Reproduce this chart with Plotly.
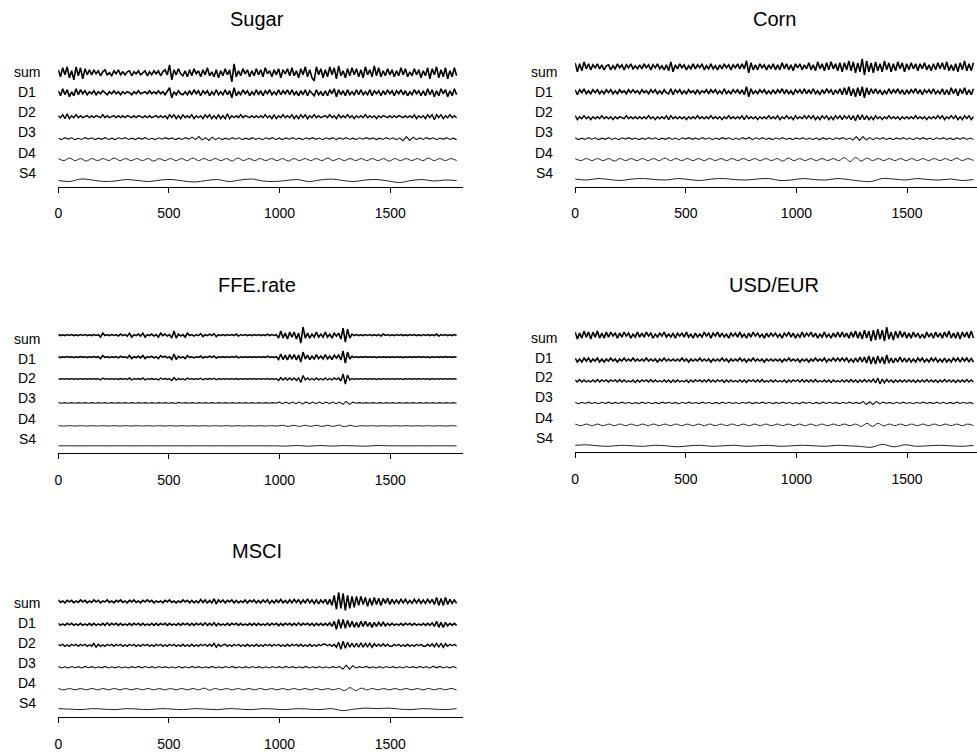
import numpy as np
import plotly.graph_objects as go

# ---------------------------------------------------------------------------
# Multiresolution decomposition (sum = D1 + D2 + D3 + D4 + S4) of five series.
# Each row list holds the successive local peaks/troughs of the component, in
# the same units for every row; samples are spread evenly over the 1800 days.
# ---------------------------------------------------------------------------
N_OBS = 1800
ROW_NAMES = ["sum", "D1", "D2", "D3", "D4", "S4"]
PANEL_TITLES = ["Sugar", "Corn", "FFE.rate", "USD/EUR", "MSCI"]
X_TICKS = [0, 500, 1000, 1500]

# ----------------------------- Sugar ---------------------------------------
SUGAR_SUM = [3,-4,5,-2,6,-5,2,-7,6,-3,5,-6,4,-2,3,
             -2,3,-1,2,-3,1,3,-2,0,-3,2,-1,3,-2,1,
             -2,1,2,-3,1,-1,2,-2,0,2,-3,1,-2,2,-1,
             2,-3,1,3,-2,8,-7,3,-2,4,-1,-3,2,-4,3,
             -3,4,-1,2,-4,3,-2,5,-3,1,-4,3,-5,2,-3,
             4,-2,3,-9,9,-4,2,-3,4,-1,3,-4,2,-3,4,
             -2,3,-4,5,-1,2,-4,3,-2,4,-5,3,-1,4,-3,
             5,-3,2,-5,4,-2,6,-4,3,-5,-8,6,-2,4,-5,
             3,-4,6,-2,5,-6,7,-3,2,-5,4,-3,5,-2,4,
             -4,3,-5,6,-2,3,-4,7,-3,5,-4,2,-3,4,-2,
             3,-4,2,-3,5,-2,4,-4,1,-3,4,-2,3,-5,2,
             -3,5,-6,4,-2,6,-5,3,-4,5,-6,2,-4,5,-3]
SUGAR_D1 = [2,-3,4,-2,3,-4,1,-3,4,-2,3,-1,2,-2,1,
            -1,2,-2,1,-1,2,0,-2,1,-1,2,-1,1,-2,1,
            -1,1,0,-2,1,-1,2,-1,0,1,-1,2,-1,1,-1,
            2,-1,1,-2,2,5,-5,1,-2,2,-1,-2,1,-2,2,
            -2,3,-1,2,-3,2,-1,2,-3,1,-2,3,-2,1,-2,
            3,-2,2,-5,5,-3,1,-2,3,-1,2,-3,1,-2,3,
            -2,2,-3,2,-1,3,-2,1,-2,3,-2,2,-1,3,-2,
            3,-2,1,-3,2,-2,3,-3,2,-1,-3,3,-2,1,-3,
            2,-3,3,-1,4,-4,3,-2,2,-3,3,-2,1,-2,3,
            -2,3,-2,1,-2,3,-3,2,-1,2,-3,2,-2,3,-1,
            2,-3,2,-1,3,-2,2,-3,1,-2,3,-1,2,-3,2,
            -3,4,-2,3,-4,2,-3,4,-1,3,-4,2,-3,4,-2]
SUGAR_D2 = [1,-1,2,-2,3,-2,1,-1,2,-1,1,-1,0,1,-1,
            1,-1,1,0,-1,2,-1,1,-1,0,1,-1,1,-1,1,
            -1,1,0,-1,1,-1,1,0,-1,1,-1,1,-1,0,1,
            -1,1,-1,1,-2,2,-1,2,-2,1,-2,2,-1,1,-1,
            2,-2,1,-1,1,-2,2,-1,2,-2,1,-2,2,-2,1,
            -2,3,-2,1,-1,1,-1,2,-1,1,0,-1,1,-1,1,
            -1,1,-1,2,-1,1,-2,2,-2,1,-1,2,-1,1,-1,
            2,-2,1,-2,2,-1,2,-2,1,-1,2,-1,1,-1,0,
            1,-1,2,-1,1,-2,2,-1,1,-1,2,-1,1,-2,1,
            -1,1,-1,2,-1,1,-1,1,-2,1,-1,1,0,-1,1,
            -1,1,-1,1,0,-1,1,-1,1,-1,2,-2,1,-1,1,
            -2,2,-1,2,-3,2,-1,2,-2,1,-1,2,-1,1,-1]
SUGAR_D3 = [0.5,-1,1,-0.5,0.8,-1,0.3,-0.8,1,-0.5,0.8,-1,0.5,-0.7,1,-0.8,0.5,-1,0.8,-0.3,
            1,-0.8,0.5,-1,0.7,-0.5,1,-0.8,0.3,-1,0.8,-0.6,1,-0.5,0.7,-1,0.5,-0.8,1,-0.5,
            1.5,-1,2,-1.5,1,-1.8,1.5,-1,0.8,-1,0.5,-0.8,1,-0.6,0.8,-1,0.5,-0.7,1,-0.8,
            0.6,-1,0.8,-0.5,1,-0.8,0.5,-1,0.7,-0.6,1,-0.8,0.5,-1,0.8,-0.5,1,-0.7,0.6,-1,
            0.8,-0.5,1,-1,0.7,-0.6,1,-0.8,0.5,-1,0.8,-0.6,1,-0.5,0.7,-1,0.5,-0.8,1,-0.6,
            0.8,-1,0.6,-2,2,-1.8,1.5,-1,0.7,-0.8,1,-0.5,0.8,-1,0.6,-0.7,1,-0.8,0.5,-1]
SUGAR_D4 = [1,-1,1.5,-1,1,-1.5,1,-1,1,-1,1.5,-1,1,-1,1,-1,1,-1.5,
            1,-1,1,-1,1,-1,1.5,-1,1,-1,1,-1,1,-1.5,1.5,-1,1,-1,
            1,-1,1,-1,1,-1.5,1,-1,1,-1,1,-1,1.5,-1,1,-1,1,-1,
            1,-1,1,-1,1,-1.5,1,-1,1,-1,1,-1,1.5,-1,1,-1,1,-1]
SUGAR_S4 = [0,-1,1.5,0.5,-1,-0.5,1,0,-1,0.5,1,-0.5,-1.5,0,1,-1,0.5,1.5,
            -0.5,-1,0,1,-1,0.5,1.5,0,-1,0.5,1,-0.5,-2,0,1,-0.5,0.5,0]

# ----------------------------- Corn ----------------------------------------
CORN_SUM = [4,-5,3,-4,5,-2,3,-3,2,-1,3,-2,2,-3,1,
            2,-3,1,-2,3,-1,2,-3,2,-1,3,-2,1,-2,2,
            -2,3,-1,2,-3,2,-1,3,-2,1,-3,2,-4,5,-5,
            2,-2,3,-1,2,-3,1,-2,3,-2,2,-1,3,-3,1,
            -2,3,-2,1,-3,2,-2,3,-1,2,-3,2,-1,3,-2,
            3,-2,6,-6,4,-3,2,-3,3,-1,2,-3,2,-2,3,
            -3,2,-3,4,-2,3,-3,2,-4,3,-1,3,-3,2,-2,
            4,-3,2,-4,5,-2,3,-4,4,-3,5,-2,3,-4,4,
            -5,4,-3,6,-4,5,-6,4,-5,8,-8,6,-5,4,-6,
            5,-4,3,-5,6,-3,4,-5,3,-4,5,-2,4,-5,3,
            -3,4,-2,3,-4,3,-2,4,-3,2,-4,3,-3,4,-2,
            4,-3,5,-4,2,-4,3,-5,4,-3,6,-4,3,-4,4]
CORN_D1 = [2,-3,2,-1,3,-2,1,-2,2,-1,2,-2,1,-2,2,
           -1,2,-2,1,-2,2,-1,1,-2,2,-1,2,-1,1,-2,
           2,-1,1,-2,2,-1,2,-2,1,-2,2,-1,-2,3,-3,
           2,-1,2,-2,1,-2,2,-1,1,-2,2,-2,1,-1,2,
           -2,2,-1,2,-2,1,-2,3,-2,1,-2,2,-1,2,-2,
           2,-3,5,-5,3,-2,1,-2,2,-1,2,-2,1,-2,2,
           -2,2,-1,3,-2,2,-2,1,-3,2,-1,2,-2,3,-2,
           2,-2,3,-2,1,-3,2,-2,3,-1,2,-3,2,-2,3,
           -3,4,-3,5,-4,3,-5,4,-4,5,-6,4,-3,3,-2,
           3,-2,2,-3,1,-2,3,-2,2,-1,3,-2,2,-3,2,
           -2,2,-1,3,-2,2,-3,2,-1,2,-2,3,-2,1,-2,
           3,-3,2,-3,4,-2,3,-4,3,-2,4,-3,2,-3,3]
CORN_D2 = [2,-2,1,-1,2,-1,1,-2,1,-1,1,-1,2,-1,1,
           -1,1,-2,1,-1,1,0,-1,2,-1,1,-1,1,-1,1,
           -1,1,-1,2,-1,1,-2,1,-1,1,-1,2,-2,2,-1,
           1,-1,1,-1,1,-2,1,-1,1,-1,2,-1,1,-1,1,
           -1,2,-1,1,-1,1,-2,1,-1,2,-1,1,-1,1,-1,
           2,-2,2,-1,1,-1,1,-2,1,-1,1,-1,2,-1,1,
           -1,2,-2,1,-1,2,-1,1,-2,2,-1,1,-1,2,-1,
           2,-1,2,-2,1,-2,2,-1,2,-2,1,-2,2,-1,2,
           -2,2,-1,2,-2,2,-3,3,-2,3,-2,2,-2,1,-2,
           2,-1,1,-2,1,-1,2,-1,1,-1,1,-2,1,-1,1,
           -1,1,-1,2,-1,1,-1,1,-2,1,-1,1,-1,2,-1,
           2,-2,1,-1,2,-1,2,-2,1,-2,2,-1,2,-2,1]
CORN_D3 = [0.8,-1,0.5,-0.8,1,-0.6,0.8,-1,0.5,-0.7,1,-0.8,0.6,-1,0.8,-0.5,1,-0.7,0.6,-1,
           0.5,-0.8,1,-0.6,0.8,-1,0.5,-0.7,1,-0.8,0.6,-1,0.8,-0.5,1,-0.7,0.5,-0.8,1,-0.6,
           0.8,-1,0.6,-0.7,1,-0.5,0.8,-1,0.6,-0.8,1,-0.5,1.2,-1,0.8,-0.6,1,-0.8,0.5,-1,
           0.8,-0.6,1,-0.8,0.5,-1,0.7,-0.6,1,-0.8,0.6,-1,0.8,-1.2,1,-0.7,0.6,-1,0.8,-0.5,
           1,-0.8,0.6,-1.5,2,-1.8,2,-1.5,1,-1,0.8,-0.6,1,-0.8,0.5,-1,0.7,-0.6,1,-0.8,
           0.6,-1,0.8,-0.5,1,-0.7,0.6,-1,0.8,-0.6,1,-0.8,0.5,-1,0.7,-0.6,1,-0.8,0.6,-1]
CORN_D4 = [1,-1,1,-1,1,-1,1,-1.5,1,-1,1,-1,1,-1,1,-1,1.5,-1,
           1,-1,1,-1,1,-1,1,-1,1,-1,1,-1,1,-1,1,-1,1,-1,
           1,-1.5,1.5,-1,1,-1,1,-1,1,-1,1,-1,2,-2,2,-1.5,1.5,-1,
           1,-1,1,-1,1,-1,1,-1,1,-1,1,-1,1,-1,1.5,-1,1,-1]
CORN_S4 = [0.5,-0.5,1,0,-1,0.5,1,0,-0.5,1,0,-1,0.5,1,0,-0.5,0.5,1,
           -1,-0.5,1,0,-0.5,1,0,-1.5,-2,1,0.5,-0.5,1,0,-0.5,0.5,-1,0]

# ----------------------------- FFE.rate ------------------------------------
FFE_SUM = [0.5,-0.5,0.3,-0.5,0.5,-0.3,0.5,-0.5,0.3,-0.5,0.5,-0.3,0.5,-0.5,0.3,
           -0.5,0.5,-0.3,0.5,-2,2,-0.5,0.3,-0.5,0.5,-0.3,0.5,-1,1,-0.5,
           0.5,-1,2,-2,0.5,-0.5,1,-1,2,-2,0.5,-0.5,1,-1,0.5,
           -2,2,-0.5,1,-1,0.5,-3,4,-3,1,-1,0.5,-2,2,-0.5,
           0.5,-1,0.5,-0.5,1.5,-1.5,0.5,-0.5,1,-0.5,1.5,-1.5,0.5,-0.5,0.5,
           -0.5,0.5,-0.3,0.5,-0.5,1,-1,0.5,-0.3,0.5,-0.5,0.3,-0.5,0.5,-0.3,
           0.5,-0.5,0.3,-0.5,1,-0.5,0.5,-0.3,0.5,-3,4,-3,2,-4,3,
           -2,3,-4,2,-8,8,-3,2,-3,1,-2,3,-2,1,-2,
           3,-2,1,-3,2,-1,2,-4,7,-7,6,-3,1,-0.5,0.5,
           -0.5,0.3,-0.5,0.5,-0.3,0.5,-0.5,0.3,-0.5,0.5,-1,1,-0.3,0.5,-0.5,
           0.3,-0.5,0.5,-0.3,0.5,-0.5,0.3,-0.5,0.5,-0.3,0.5,-0.5,0.3,-0.5,0.5,
           -0.3,0.5,-0.5,0.3,-0.5,1,-1,0.5,-0.3,0.5,-0.5,0.3,-0.5,0.5,-0.3]
FFE_D1 = [0.3,-0.5,0.3,-0.3,0.5,-0.3,0.3,-0.5,0.3,-0.3,0.5,-0.3,0.3,-0.5,0.3,
          -0.3,0.5,-0.3,0.3,-1.5,1.5,-0.3,0.3,-0.5,0.3,-0.3,0.5,-0.8,0.8,-0.3,
          0.3,-0.8,1.5,-1.5,0.3,-0.5,0.8,-0.8,1.5,-1.5,0.3,-0.3,0.8,-0.8,0.3,
          -1.5,1.5,-0.3,0.8,-0.8,0.3,-2.5,3,-2.5,0.8,-0.8,0.3,-1.5,1.5,-0.3,
          0.3,-0.8,0.3,-0.3,1,-1,0.3,-0.3,0.8,-0.3,1,-1,0.3,-0.3,0.3,
          -0.3,0.3,-0.3,0.5,-0.3,0.8,-0.8,0.3,-0.3,0.3,-0.3,0.3,-0.3,0.3,-0.3,
          0.3,-0.3,0.3,-0.3,0.8,-0.3,0.3,-0.3,0.3,-2.5,3,-2.5,2,-3,2.5,
          -2,2.5,-3,2,-5,5,-2,2,-2.5,1,-2,2.5,-1.5,1,-2,
          2.5,-2,1,-2.5,2,-1,2,-3,6,-6,5,-2,0.8,-0.3,0.3,
          -0.3,0.3,-0.3,0.5,-0.3,0.3,-0.3,0.3,-0.5,0.3,-0.3,0.3,-0.3,0.3,-0.3,
          0.3,-0.3,0.3,-0.3,0.3,-0.5,0.3,-0.3,0.3,-0.3,0.3,-0.3,0.5,-0.3,0.3,
          -0.3,0.3,-0.5,0.3,-0.3,0.3,-0.3,0.3,-0.3,0.5,-0.3,0.3,-0.3,0.3,-0.3]
FFE_D2 = [0.3,-0.3,0.3,-0.3,0.3,-0.3,0.3,-0.3,0.3,-0.3,0.3,-0.3,0.3,-0.3,0.3,
          -0.3,0.3,-0.3,0.3,-1,1,-0.3,0.3,-0.3,0.3,-0.3,0.3,-0.5,0.5,-0.3,
          0.3,-0.5,1,-1,0.3,-0.3,0.5,-0.5,1,-1,0.3,-0.3,0.5,-0.5,0.3,
          -1,1,-0.3,0.5,-0.5,0.3,-1.5,1.5,-1,0.5,-0.5,0.3,-1,1,-0.3,
          0.3,-0.5,0.3,-0.3,0.8,-0.8,0.3,-0.3,0.5,-0.3,0.8,-0.8,0.3,-0.3,0.3,
          -0.3,0.3,-0.3,0.3,-0.3,0.5,-0.5,0.3,-0.3,0.3,-0.3,0.3,-0.3,0.3,-0.3,
          0.3,-0.3,0.3,-0.3,0.5,-0.3,0.3,-0.3,0.3,-1.5,1.5,-1,1,-1,1,
          -1,1,-1.5,1,-3.5,3.5,-1,1,-1,0.5,-1,1,-0.8,0.5,-1,
          1,-1,0.5,-1,1,-0.5,1,-2,5,-5,4,-1,0.5,-0.3,0.3,
          -0.3,0.3,-0.3,0.5,-0.3,0.3,-0.3,0.3,-0.5,0.3,-0.3,0.3,-0.3,0.3,-0.3,
          0.3,-0.3,0.3,-0.3,0.3,-0.5,0.3,-0.3,0.3,-0.3,0.3,-0.3,0.5,-0.3,0.3,
          -0.3,0.3,-0.5,0.3,-0.3,0.3,-0.3,0.3,-0.3,0.5,-0.3,0.3,-0.3,0.3,-0.3]
FFE_D3 = [0.3,-0.3,0.3,-0.3,0.3,-0.3,0.3,-0.3,0.3,-0.3,
          0.3,-0.3,0.3,-0.3,0.3,-0.3,0.3,-0.3,0.3,-0.3,
          0.3,-0.3,0.3,-0.3,0.3,-0.3,0.3,-0.3,0.3,-0.3,
          0.3,-0.3,0.3,-0.3,0.3,-0.5,0.5,-0.3,0.3,-0.3,
          0.3,-0.3,0.3,-0.3,0.3,-0.3,0.3,-0.3,0.3,-0.3,
          0.3,-0.3,0.3,-0.3,0.3,-0.3,0.3,-0.3,0.3,-0.3,
          0.3,-0.3,0.3,-0.3,0.3,-0.3,0.8,-0.8,0.8,-0.8,
          0.8,-0.8,0.8,-1,1,-0.8,0.8,-0.8,0.8,-0.8,
          0.8,-0.8,0.8,-0.8,0.8,-1.5,1.5,-1.5,0.8,-0.3,
          0.3,-0.3,0.3,-0.3,0.3,-0.3,0.3,-0.3,0.3,-0.3,
          0.3,-0.3,0.3,-0.3,0.3,-0.3,0.3,-0.3,0.3,-0.3,
          0.3,-0.3,0.3,-0.3,0.3,-0.3,0.3,-0.3,0.3,-0.3]
FFE_D4 = [0.2,-0.2,0.2,-0.2,0.2,-0.2,0.2,-0.2,0.2,-0.2,0.2,-0.2,
          0.2,-0.2,0.2,-0.2,0.2,-0.2,0.2,-0.2,0.2,-0.2,0.2,-0.2,
          0.2,-0.2,0.2,-0.2,0.2,-0.2,0.2,-0.2,0.2,-0.2,0.2,-0.2,
          0.2,-0.2,0.2,-0.2,0.6,-0.6,0.6,-0.6,0.6,-0.6,0.6,-0.6,
          0.6,-0.6,0.8,-0.8,0.6,-0.6,0.2,-0.2,0.2,-0.2,0.2,-0.2,
          0.2,-0.2,0.2,-0.2,0.2,-0.2,0.2,-0.2,0.2,-0.2,0.2,-0.2]
FFE_S4 = [0,0,0,0,0,0,0,0,0,0,0,0,0,0,0,0,0,0,
          0,0,-0.3,0.3,-0.4,0.3,-0.3,0.2,0,-0.4,0.3,0,0,0,0,0,0,0]

# ----------------------------- USD/EUR -------------------------------------
USD_SUM = [3,-4,2,-3,4,-2,3,-4,3,-2,4,-3,2,-3,3,
           -2,3,-1,2,-3,2,-2,3,-1,2,-3,1,-2,3,-2,
           2,-2,3,-1,2,-3,1,-2,2,-1,3,-2,1,-2,2,
           -3,2,-1,2,-2,3,-2,1,-3,2,-2,1,-2,3,-1,
           2,-3,2,-1,3,-2,2,-2,1,-3,2,-1,2,-2,3,
           -2,1,-3,2,-2,3,-1,2,-2,1,-3,2,-2,2,-1,
           2,-2,1,-3,2,-1,3,-2,2,-3,1,-2,3,-2,2,
           -1,3,-2,2,-3,1,-2,3,-2,1,-3,2,-2,3,-2,
           3,-2,2,-3,3,-2,4,-3,3,-4,5,-3,4,-6,5,
           -5,6,-4,5,-6,8,-4,3,-5,4,-3,4,-2,3,-3,
           2,-3,3,-2,2,-3,1,-3,3,-2,2,-3,3,-2,2,
           -3,3,-2,4,-3,2,-3,3,-4,3,-2,3,-3,4,-3]
USD_D1 = [2,-2,1,-2,2,-1,2,-2,1,-1,2,-2,1,-2,1,
          -1,2,-1,1,-2,1,-1,2,-1,1,-1,2,-1,1,-1,
          1,-1,2,-1,1,-1,1,-2,1,-1,2,-1,1,-1,1,
          -1,1,-1,2,-1,1,-2,1,-1,1,-1,2,-1,1,-1,
          1,-2,1,-1,1,-1,2,-1,1,-2,1,-1,1,-1,2,
          -1,1,-2,1,-1,2,-1,1,-1,1,-2,1,-1,1,-1,
          1,-1,1,-2,1,-1,2,-1,1,-1,1,-2,1,-1,1,
          -2,1,-1,2,-1,1,-1,2,-2,1,-1,2,-1,2,-1,
          2,-1,2,-2,1,-2,2,-2,3,-2,3,-3,4,-4,3,
          -4,4,-3,3,-4,5,-3,2,-3,2,-2,3,-2,2,-2,
          2,-2,1,-2,2,-1,2,-2,1,-2,2,-1,2,-2,1,
          -2,2,-2,1,-2,2,-1,2,-2,2,-1,2,-2,2,-2]
USD_D2 = [1,-1,1.5,-1,1,-1,0.5,-1,1,-1,1.5,-1,1,-0.5,1,
          -1,1,-0.5,1,-1,1.5,-1,1,-1,0.5,-1,1,-1.5,1,-1,
          1,-0.5,1,-1,1.5,-1,1,-1,0.5,-1,1,-1,1,-1.5,1,
          -1,1,-1,0.5,-1,1,-1.5,1,-1,1,-0.5,1,-1,1,-1,
          1.5,-1,1,-1,1,-0.5,1,-1.5,1,-1,1,-1,0.5,-1,1,
          -1,1,-1.5,1,-0.5,1,-1,1,-1,1.5,-1,0.5,-1,1,-1,
          1,-1,0.5,-1,1,-1.5,1,-1,1,-0.5,1,-1,1.5,-1,1,
          -1,1,-1,1.5,-1,0.5,-1,1,-1,1,-1.5,1,-1,0.5,-1,
          1,-1,1,-1,1.5,-1,1,-1.5,1,-1,1.5,-1,1,-1,2,
          -2,3,-3,2,-2,1.5,-1,1,-1.5,1,-1,1,-1,1,-1,
          1,-1,1,-1.5,1,-1,1,-1,1.5,-1,1,-1,1,-1.5,1,
          -1,1.5,-1,1,-1,1,-1.5,1,-1,1,-1,1.5,-1,1,-1]
USD_D3 = [0.5,-0.8,0.7,-0.5,0.8,-0.6,0.4,-0.8,0.7,-0.5,0.8,-0.7,0.5,-0.6,0.8,-0.5,0.7,-0.8,0.4,-0.7,
          0.8,-0.5,0.6,-0.8,0.5,-0.7,0.8,-0.4,0.7,-0.6,0.5,-0.8,0.7,-0.5,0.8,-0.6,0.4,-0.7,0.8,-0.5,
          0.6,-0.8,0.5,-0.7,0.8,-0.5,0.7,-0.6,0.4,-0.8,0.7,-0.5,0.8,-0.7,0.5,-0.6,0.8,-0.5,0.7,-0.8,
          0.5,-0.6,0.8,-0.5,0.7,-0.8,0.4,-0.7,0.8,-0.5,0.6,-0.8,0.5,-0.7,0.8,-0.5,0.7,-0.6,0.5,-0.8,
          0.7,-0.5,0.8,-0.6,0.5,-0.7,1.5,-1.5,1.2,-1.5,1.5,-1,0.8,-0.6,0.5,-0.8,0.7,-0.5,0.8,-0.6,
          0.4,-0.8,0.7,-0.5,0.8,-0.6,0.5,-0.7,0.8,-0.5,0.6,-0.8,0.5,-0.7,0.8,-0.5,0.7,-0.6,0.5,-0.8]
USD_D4 = [0.8,-0.8,0.8,-0.8,0.8,-0.8,0.8,-0.8,0.8,-0.8,0.8,-0.8,
          0.8,-0.8,0.8,-0.8,0.8,-0.8,0.8,-0.8,0.8,-0.8,0.8,-0.8,
          0.8,-0.8,0.8,-0.8,0.8,-0.8,0.8,-0.8,0.8,-0.8,0.8,-0.8,
          0.8,-0.8,0.8,-0.8,0.8,-0.8,0.8,-0.8,0.8,-0.8,0.8,-0.8,
          0.8,-0.8,0.8,-1.5,1.5,-1.5,1.5,-1,0.8,-0.8,0.8,-0.8,
          0.8,-0.8,0.8,-0.8,0.8,-0.8,0.8,-0.8,0.8,-0.8,0.8,-0.8]
USD_S4 = [0.5,1,0,-0.5,0.5,0,-0.5,0.5,0,-1,0,0.5,-0.5,0,0.5,-0.5,0,0.5,
          -0.5,0,0.5,0,-0.5,0.5,0,-0.5,-1.5,1.5,-1,1,-0.5,0,0.5,0,-0.5,0.5]

# ----------------------------- MSCI ----------------------------------------
MSCI_SUM = [1.5,-1,0.5,-1.5,1,-0.5,1,-1.5,0.5,-1,1.5,-0.5,1,-1.5,0.5,
            -1,1.5,-0.5,1,-1.5,0.5,-0.5,1.5,-1,0.5,-1.5,1,-0.5,1.5,-1,
            0.5,-1.5,1,-0.5,1.5,-1,0.5,-1.5,1,-0.5,1.5,-0.5,1,-1.5,0.5,
            -1,0.5,-1.5,1,-0.5,1.5,-1,0.5,-1.5,0.5,-1,1.5,-0.5,1,-1.5,
            1,-1.5,0.5,-1.5,2,-1,1.5,-1.5,1,-1.5,2.5,-2.5,1.5,-1,1.5,
            -1.5,1,-0.5,1.5,-1.5,1,-1.5,0.5,-1,1.5,-1.5,1,-0.5,1.5,-1.5,
            1,-1.5,1.5,-1,1.5,-2,1,-1.5,1.5,-1,2,-1.5,1,-1.5,1.5,
            -1.5,2,-1,1.5,-2,1.5,-1.5,2.5,-1.5,1.5,-2,1.5,-2.5,1.5,-1.5,
            2,-3,2,-4,6,-8,9,-7,8,-9,6,-7,5,-6,5,
            -4,5,-3,4,-5,3,-4,4,-3,3,-4,3,-2,3,-3,
            2,-2,1.5,-2,2,-1.5,2,-2,1,-2,2,-1.5,2,-2,1.5,
            -2,2,-1.5,2,-3,4,-4,3,-4,4,-3,2,-2,1.5,-2]
MSCI_D1 = [1,-1,0.5,-1,1,-0.5,1,-1,0.5,-1,1,-1,0.5,-1,1,
           -1,1,-1,0.5,-1,1,-1,1.5,-1,1,-0.5,1,-1,1,-1,
           0.5,-1,1,-1,1,-0.5,1,-1,1,-1,0.5,-1,1,-1,1,
           -1,1,-0.5,1,-1,1,-1,0.5,-1,1,-1,1,-0.5,1,-1,
           1,-1,1,-0.5,1,-1,1.5,-1,1,-1,1.5,-1.5,1,-1,0.5,
           -1,1,-1,1,-0.5,1,-1,1,-1,0.5,-1,1,-1,1,-1,
           1,-1,0.5,-1,1,-1,1,-0.5,1,-1.5,1,-1,1,-0.5,1,
           -1,1,-1,1.5,-1,1,-0.5,1,-1,1,-1.5,1,-1,1,-1,
           1,-1,1.5,-2,3,-5,5,-4,5,-4,4,-3,3,-3,2,
           -3,3,-2,3,-2,2,-3,2,-2,2,-1.5,2,-1.5,1,-1,
           1,-1,0.5,-1,1,-1,1,-0.5,1,-1,1,-1,0.5,-1,1,
           -1,1,-1,1.5,-2,3,-3,2,-3,2,-1.5,1,-1,1,-1]
MSCI_D2 = [1,-0.5,1,-1,0.5,-1,1,-0.5,1,-1,1,-0.5,1,-1,0.5,
           -1,2,-2,1,-1,0.5,-1,1,-0.5,1,-1,1,-0.5,1,-1,
           0.5,-1,1,-0.5,1,-1,0.5,-1,1,-0.5,1,-1,0.5,-1,1,
           -0.5,1,-1,0.5,-1,1,-0.5,1,-1,0.5,-1,1,-1,0.5,-1,
           1,-1,0.5,-1,1,-0.5,1,-1,1,-1,2,-2,1,-1,0.5,
           1,-1,0.5,-1,1,-0.5,1,-1,0.5,-1,1,-1,0.5,-1,1,
           -1,0.5,-1,1,-0.5,1,-1,1,-0.5,1,-1,0.5,-1,1,-1,
           1,-0.5,1,-1,1,-1,0.5,-1,1,-1,0.5,-1,1,-0.5,1,
           1,-0.5,1,-1,1,-2,3,-4,4,-3,3,-2,2,-2,2,
           -2,2.5,-2,2,-1.5,2,-2,1.5,-1,1,-1,1.5,-1,1,-1,
           -1,1,-0.5,1,-1,0.5,-1,1,-1,0.5,-1,1,-0.5,1,-1,
           -1,1,-1,1.5,-1.5,2,-2,2,-2,1.5,-1,1,-0.5,1,-1]
MSCI_D3 = [0.6,-0.7,0.5,-0.8,0.7,-0.5,0.6,-0.7,0.8,-0.5,0.6,-0.7,0.5,-0.6,0.8,-0.7,0.5,-0.6,0.7,-0.8,
           0.5,-0.7,0.6,-0.5,0.8,-0.6,0.7,-0.5,0.6,-0.8,0.7,-0.5,0.6,-0.7,0.5,-0.8,0.7,-0.6,0.5,-0.7,
           0.8,-0.5,0.6,-0.7,0.5,-0.6,0.8,-0.7,0.5,-0.6,0.7,-0.5,0.8,-0.6,0.5,-0.7,0.6,-0.8,0.7,-0.5,
           0.6,-0.7,0.5,-0.8,0.7,-0.5,0.6,-0.7,0.8,-0.5,0.6,-0.7,0.5,-0.6,0.8,-0.7,0.5,-0.6,0.7,-0.8,
           0.5,-0.7,0.6,-0.5,0.8,-2,2,-2,1.5,-0.7,0.6,-0.5,0.8,-0.6,0.5,-0.7,0.6,-0.8,0.7,-0.5,
           0.6,-0.7,0.5,-0.8,0.7,-0.5,0.6,-0.7,0.8,-0.5,0.6,-1,1,-0.6,0.8,-0.7,0.5,-0.6,0.7,-0.8]
MSCI_D4 = [0.7,-0.7,0.7,-0.7,0.7,-0.7,0.7,-0.7,0.7,-0.7,0.7,-0.7,
           0.7,-0.7,0.7,-0.7,0.7,-0.7,0.7,-0.7,0.7,-0.7,0.7,-0.7,
           0.7,-0.7,1,-1,0.7,-0.7,0.7,-0.7,0.7,-0.7,0.7,-0.7,
           0.7,-0.7,0.7,-0.7,0.7,-0.7,0.7,-0.7,0.7,-0.7,0.7,-0.7,
           0.7,-0.7,0.7,-1.5,1.5,-1.5,1,-0.7,0.7,-0.7,0.7,-0.7,
           0.7,-0.7,0.7,-0.7,0.7,-0.7,0.7,-0.7,0.7,-0.7,0.7,-0.7]
MSCI_S4 = [0.5,0,-0.5,0.5,0,-0.5,0.5,0,-0.5,0.5,0,-0.5,0.5,0,-0.5,0.5,0,-0.5,
           0.5,0,-0.5,0.5,0,-0.5,0.5,-1.5,0,1,0.5,1,0,-0.5,0.5,0,-0.5,0.5]

SUGAR = [SUGAR_SUM, SUGAR_D1, SUGAR_D2, SUGAR_D3, SUGAR_D4, SUGAR_S4]
CORN = [CORN_SUM, CORN_D1, CORN_D2, CORN_D3, CORN_D4, CORN_S4]
FFE = [FFE_SUM, FFE_D1, FFE_D2, FFE_D3, FFE_D4, FFE_S4]
USD = [USD_SUM, USD_D1, USD_D2, USD_D3, USD_D4, USD_S4]
MSCI = [MSCI_SUM, MSCI_D1, MSCI_D2, MSCI_D3, MSCI_D4, MSCI_S4]
PANEL_ROWS = [SUGAR, CORN, FFE, USD, MSCI]

# ----------------------------- layout (pixels) ------------------------------
W, H = 977, 752
PX_PER_UNIT = 0.2222          # horizontal scale of every panel
AXIS_SPAN = 1827               # x-axis line length in observation units
PANEL_X0 = [54.5, 573.5, 54.5, 573.5, 54.5]      # pixel of observation 0
PANEL_AXIS = [187, 187, 454, 453, 719]           # pixel row of the x axis line
PANEL_TITLE_Y = [19, 19, 286, 286, 552]
PANEL_HEIGHT = 140
# vertical offset of each component above the x-axis line
ROW_OFFSETS = [
    [114, 94, 70, 48, 27, 6],
    [120, 95, 69, 48, 27, 7],
    [118, 96, 74, 50, 27, 7],
    [117, 92, 71, 49, 27, 6],
    [116, 93, 72, 50, 28, 8],
]
LABEL_OFFSETS = [114.5, 94.5, 74.5, 54.5, 34, 14]
FONT = "Liberation Sans, Arial, sans-serif"
LINE_COLORS = ["#000000", "#000000", "#000000", "#111111", "#222222", "#222222"]
LINE_WIDTHS = [1.6, 1.6, 1.4, 1.1, 1.0, 1.0]

fig = go.Figure()
annotations = []

for p, rows in enumerate(PANEL_ROWS):
    k = "" if p == 0 else str(p + 1)
    x0 = PANEL_X0[p]
    x_end_px = min(W, x0 + AXIS_SPAN * PX_PER_UNIT)
    x_range_end = (x_end_px - x0) / PX_PER_UNIT
    axis_px = PANEL_AXIS[p]
    top_px = axis_px - PANEL_HEIGHT

    for r, vals in enumerate(rows):
        x = np.linspace(0, N_OBS, len(vals))
        y = ROW_OFFSETS[p][r] + np.asarray(vals, dtype=float)
        smooth = r >= 4
        line = dict(color=LINE_COLORS[r], width=LINE_WIDTHS[r],
                    shape="spline" if smooth else "linear")
        if smooth:
            line["smoothing"] = 1.0
        fig.add_trace(go.Scatter(
            x=x, y=y, mode="lines", line=line,
            xaxis="x" + k, yaxis="y" + k,
            hoverinfo="skip", showlegend=False,
        ))

    fig.update_layout(**{
        "xaxis" + k: dict(
            domain=[x0 / W, x_end_px / W], range=[0, x_range_end],
            anchor="y" + k, showline=True, linecolor="black", linewidth=1,
            ticks="outside", ticklen=5, tickwidth=1, tickcolor="black",
            tickvals=X_TICKS, ticktext=[str(t) for t in X_TICKS],
            tickfont=dict(family=FONT, size=14, color="black"),
            ticklabelstandoff=9,
            showgrid=False, zeroline=False, fixedrange=True,
        ),
        "yaxis" + k: dict(
            domain=[1 - axis_px / H, 1 - top_px / H], range=[0, PANEL_HEIGHT],
            anchor="x" + k, visible=False, showgrid=False, zeroline=False,
            fixedrange=True,
        ),
    })

    annotations.append(dict(
        text=PANEL_TITLES[p], xref="paper", yref="paper",
        x=(x0 + N_OBS * PX_PER_UNIT / 2) / W, y=1 - PANEL_TITLE_Y[p] / H,
        xanchor="center", yanchor="middle", showarrow=False,
        font=dict(family=FONT, size=20, color="black"),
    ))
    for r, name in enumerate(ROW_NAMES):
        annotations.append(dict(
            text=name, xref="paper", yref="y" + k,
            x=(x0 - 31) / W, y=LABEL_OFFSETS[r],
            xanchor="center", yanchor="middle", showarrow=False,
            font=dict(family=FONT, size=14, color="black"),
        ))

fig.update_layout(
    width=W, height=H, margin=dict(l=0, r=0, t=0, b=0),
    paper_bgcolor="white", plot_bgcolor="white",
    annotations=annotations, showlegend=False,
)

fig.write_html("out.html")
